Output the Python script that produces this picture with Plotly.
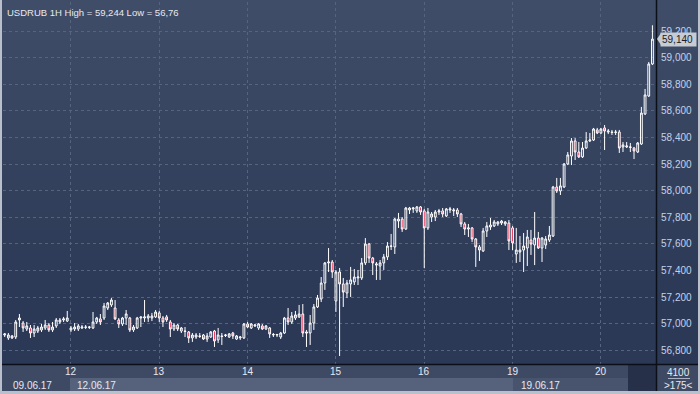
import plotly.graph_objects as go

# ---------------- data (USDRUB, 1H candles) ----------------
open_ = [56.915,56.893,56.908,56.900,57.043,57.005,56.960,56.968,56.930,56.945,56.953,56.968,56.990,56.953,56.983,57.013,57.028,57.020,
 56.953,56.960,56.960,56.968,56.972,56.972,56.968,57.013,57.036,57.043,57.118,57.141,57.118,57.028,56.998,57.043,57.043,56.953,56.968,57.043,57.043,57.043,57.043,57.051,
 57.081,57.043,57.051,57.013,56.960,56.990,56.945,56.945,56.938,56.893,56.900,56.908,56.915,56.885,56.900,56.945,56.878,56.908,56.911,56.900,56.930,56.885,56.893,56.893,
 56.998,56.968,56.983,56.968,56.983,56.960,56.968,56.915,56.915,56.900,56.930,57.043,57.013,57.043,57.051,57.073,56.938,56.930,57.005,57.126,57.186,57.306,57.457,57.464,
 57.171,57.389,57.299,57.231,57.299,57.314,57.344,57.344,57.457,57.599,57.494,57.441,57.434,57.457,57.502,57.581,57.577,57.772,57.787,57.712,57.855,57.863,57.848,57.878,
 57.848,57.720,57.802,57.802,57.840,57.848,57.810,57.855,57.848,57.855,57.825,57.750,57.712,57.720,57.637,57.577,57.547,57.697,57.727,57.735,57.750,57.772,57.750,57.757,
 57.720,57.524,57.539,57.554,57.569,57.629,57.592,57.644,57.569,57.592,57.629,57.659,58.028,57.998,58.028,58.201,58.261,58.374,58.291,58.254,58.321,58.374,58.381,58.457,
 58.434,58.472,58.441,58.441,58.438,58.441,58.329,58.329,58.325,58.321,58.291,58.351,58.577,58.712,58.953]
high = [56.930,56.930,56.915,57.028,57.073,57.020,57.013,56.990,56.990,56.983,56.998,57.028,57.005,57.013,57.043,57.043,57.051,57.096,
 56.983,57.005,56.998,56.990,56.990,56.983,57.088,57.051,57.073,57.156,57.163,57.193,57.178,57.043,57.051,57.103,57.051,56.990,57.051,57.051,57.178,57.073,57.081,57.103,
 57.096,57.058,57.066,57.028,57.005,56.998,56.975,56.975,56.945,56.930,56.930,56.930,56.923,56.930,56.945,56.953,56.968,56.930,56.923,56.930,56.938,56.915,56.908,57.005,
 57.013,57.005,56.998,57.005,56.998,56.990,56.975,56.930,56.923,56.938,57.051,57.118,57.088,57.096,57.141,57.148,56.953,57.066,57.148,57.216,57.351,57.464,57.569,57.479,
 57.404,57.419,57.344,57.329,57.427,57.411,57.404,57.494,57.644,57.607,57.502,57.464,57.479,57.524,57.614,57.675,57.795,57.833,57.802,57.878,57.878,57.878,57.885,57.885,
 57.863,57.870,57.840,57.855,57.863,57.870,57.870,57.878,57.870,57.870,57.833,57.765,57.750,57.727,57.644,57.592,57.720,57.765,57.795,57.780,57.772,57.780,57.772,57.780,
 57.735,57.720,57.659,57.682,57.705,57.705,57.840,57.690,57.652,57.659,57.735,58.036,58.096,58.096,58.208,58.291,58.396,58.396,58.366,58.366,58.441,58.434,58.472,58.472,
 58.472,58.494,58.464,58.457,58.457,58.457,58.366,58.366,58.359,58.329,58.366,58.630,58.765,58.968,59.244]
low = [56.900,56.878,56.885,56.885,56.975,56.938,56.945,56.893,56.900,56.930,56.938,56.953,56.938,56.938,56.968,56.998,57.013,57.013,
 56.938,56.945,56.945,56.960,56.960,56.960,56.960,56.998,56.990,57.028,57.103,57.126,57.028,56.968,56.983,56.990,56.938,56.938,56.960,56.975,57.013,57.013,57.020,57.043,
 57.013,56.975,57.013,56.900,56.945,56.945,56.930,56.900,56.855,56.863,56.885,56.893,56.878,56.863,56.893,56.825,56.855,56.840,56.900,56.893,56.885,56.878,56.878,56.885,
 56.968,56.960,56.975,56.953,56.953,56.953,56.893,56.900,56.900,56.885,56.923,56.990,56.998,57.028,57.043,56.900,56.825,56.840,56.953,57.118,57.163,57.254,57.389,57.344,
 57.088,56.757,57.126,57.193,57.201,57.291,57.291,57.329,57.441,57.457,57.366,57.329,57.329,57.404,57.479,57.554,57.524,57.720,57.690,57.705,57.825,57.833,57.833,57.818,
 57.419,57.705,57.765,57.772,57.818,57.802,57.802,57.833,57.810,57.802,57.727,57.667,57.652,57.614,57.427,57.472,57.539,57.652,57.705,57.727,57.735,57.742,57.735,57.554,
 57.554,57.457,57.464,57.389,57.434,57.517,57.441,57.562,57.464,57.562,57.614,57.652,57.983,57.968,58.021,58.193,58.193,58.231,58.246,58.246,58.314,58.366,58.374,58.426,
 58.426,58.306,58.426,58.419,58.419,58.284,58.291,58.321,58.291,58.238,58.284,58.344,58.569,58.705,58.945]
close = [56.923,56.915,56.893,57.013,57.028,56.968,56.983,56.930,56.960,56.968,56.975,56.990,56.953,56.975,57.028,57.028,57.036,57.043,
 56.968,56.975,56.983,56.975,56.975,56.975,57.013,57.043,57.013,57.133,57.156,57.178,57.036,56.998,57.043,57.073,56.953,56.975,57.043,57.051,57.051,57.058,57.058,57.088,
 57.043,57.013,57.028,56.960,56.990,56.960,56.968,56.942,56.893,56.915,56.915,56.904,56.885,56.908,56.938,56.870,56.915,56.904,56.915,56.923,56.908,56.908,56.900,56.998,
 56.975,56.998,56.990,56.998,56.960,56.983,56.923,56.919,56.919,56.930,57.043,57.013,57.058,57.066,57.073,56.930,56.930,57.005,57.126,57.193,57.306,57.457,57.464,57.389,
 57.389,57.299,57.238,57.306,57.329,57.351,57.351,57.457,57.599,57.494,57.457,57.449,57.457,57.502,57.584,57.584,57.787,57.787,57.712,57.870,57.870,57.870,57.878,57.840,
 57.720,57.840,57.825,57.840,57.848,57.825,57.863,57.863,57.855,57.825,57.750,57.712,57.720,57.637,57.577,57.554,57.697,57.735,57.742,57.765,57.765,57.757,57.765,57.622,
 57.607,57.554,57.554,57.584,57.652,57.599,57.644,57.569,57.644,57.637,57.667,58.028,57.998,58.036,58.201,58.269,58.374,58.291,58.254,58.321,58.374,58.381,58.464,58.434,
 58.464,58.449,58.449,58.438,58.441,58.321,58.344,58.336,58.329,58.299,58.359,58.584,58.720,58.953,59.140]

day_ticks = [18, 42, 66, 90, 114, 138, 162]
day_labels = ["12", "13", "14", "15", "16", "19", "20"]
session_labels = ["09.06.17", "12.06.17", "19.06.17"]
price_ticks = [56.8, 57.0, 57.2, 57.4, 57.6, 57.8, 58.0, 58.2, 58.4, 58.6, 58.8, 59.0, 59.2]
last_price = 59.140
title_text = "USDRUB 1H High = 59,244 Low = 56,76"
bars_count_text = "4100"
visible_text = ">175<"

# ---------------- figure ----------------
W, H = 700, 394
PL, PR, PT, PB = 3, 656, 2, 364   # plot area in pixels
FONT = "Liberation Sans, Arial, sans-serif"
FS = 9.5


def px2paper_x(px):
    return (px - PL) / (PR - PL)


def px2paper_y(py):
    return (PB - py) / (PB - PT)


def fmt(v):
    return ("%.3f" % v).replace(".", ",")


idx = list(range(len(close)))

fig = go.Figure()
fig.add_trace(go.Candlestick(
    x=idx, open=open_, high=high, low=low, close=close,
    increasing=dict(line=dict(color="#ffffff", width=1), fillcolor="rgba(0,0,0,0)"),
    decreasing=dict(line=dict(color="#ffffff", width=1), fillcolor="#e3173f"),
    whiskerwidth=0, hoverinfo="skip", showlegend=False,
))

shapes = []
# vertical gradient background
top_c = (64, 77, 104)
bot_c = (44, 57, 86)
steps = 30
for i in range(steps):
    y0 = i * 10
    y1 = y0 + 10
    t = (i + 0.5) / steps
    c = tuple(round(top_c[k] + (bot_c[k] - top_c[k]) * t) for k in range(3))
    shapes.append(dict(type="rect", xref="paper", yref="paper",
                       x0=px2paper_x(0), x1=px2paper_x(W), y0=px2paper_y(y1), y1=px2paper_y(y0),
                       fillcolor="rgb(%d,%d,%d)" % c, line=dict(width=0), layer="below"))

# bottom band
band = [
    (0, 365, W, 391, "#3e4a63"),
    (70, 378, 513, 391, "#56627b"),
    (513, 378, 628, 391, "#48546d"),
    (628, 365, 656, 391, "#263149"),
]
for x0, y0, x1, y1, col in band:
    shapes.append(dict(type="rect", xref="paper", yref="paper",
                       x0=px2paper_x(x0), x1=px2paper_x(x1), y0=px2paper_y(y1), y1=px2paper_y(y0),
                       fillcolor=col, line=dict(width=0), layer="above"))
# separators
shapes.append(dict(type="line", xref="paper", yref="paper", x0=px2paper_x(0), x1=px2paper_x(W),
                   y0=px2paper_y(364.5), y1=px2paper_y(364.5), line=dict(color="#0b0f18", width=1.5), layer="above"))
shapes.append(dict(type="line", xref="paper", yref="paper", x0=px2paper_x(656.5), x1=px2paper_x(656.5),
                   y0=px2paper_y(391), y1=px2paper_y(0), line=dict(color="#0b0f18", width=1.5), layer="above"))
shapes.append(dict(type="line", xref="paper", yref="paper", x0=px2paper_x(668), x1=px2paper_x(690),
                   y0=px2paper_y(378.5), y1=px2paper_y(378.5), line=dict(color="#aab3c3", width=1), layer="above"))
# outer frame
for x0, y0, x1, y1 in [(0, 0, 2, H), (698, 0, W, H), (0, 391, W, H)]:
    shapes.append(dict(type="rect", xref="paper", yref="paper",
                       x0=px2paper_x(x0), x1=px2paper_x(x1), y0=px2paper_y(y1), y1=px2paper_y(y0),
                       fillcolor="#b9c0cc", line=dict(width=0), layer="above"))

# last price marker arrow
dy = 0.045
shapes.append(dict(type="path", xref="paper", yref="y",
                   path="M %f,%f L %f,%f L %f,%f Z" % (px2paper_x(657), last_price,
                                                       px2paper_x(661), last_price + dy,
                                                       px2paper_x(661), last_price - dy),
                   fillcolor="#c6cbd4", line=dict(width=0), layer="above"))

annotations = []
# price tick labels
for v in price_ticks:
    annotations.append(dict(xref="paper", yref="y", x=px2paper_x(659), y=v, xanchor="left", yanchor="middle",
                            text=fmt(v), showarrow=False, font=dict(size=FS + 0.5, color="#c3d2ea")))
# last price box (drawn over the tick labels)
annotations.append(dict(xref="paper", yref="y", x=px2paper_x(660), y=last_price, xanchor="left", yanchor="middle",
                        text=fmt(last_price) + " ", showarrow=False, bgcolor="#c6cbd4", borderpad=1,
                        font=dict(size=FS + 0.5, color="#1a1d24")))
annotations += [
    dict(xref="paper", yref="paper", x=px2paper_x(5), y=px2paper_y(12), xanchor="left", yanchor="middle",
         text=title_text, showarrow=False, font=dict(size=FS, color="#e6e9ef")),
    dict(xref="paper", yref="paper", x=px2paper_x(678), y=px2paper_y(372), xanchor="center", yanchor="middle",
         text=bars_count_text, showarrow=False, font=dict(size=FS + 0.5, color="#e6e9ef")),
    dict(xref="paper", yref="paper", x=px2paper_x(678), y=px2paper_y(385.5), xanchor="center", yanchor="middle",
         text=visible_text, showarrow=False, font=dict(size=FS + 0.5, color="#e6e9ef")),
]
sess_px = [11, 75, 519]
for sx, lab in zip(sess_px, session_labels):
    annotations.append(dict(xref="paper", yref="paper", x=px2paper_x(sx), y=px2paper_y(385), xanchor="left",
                            yanchor="middle", text=lab, showarrow=False, font=dict(size=FS + 0.5, color="#e6e9ef")))
for t, lab in zip(day_ticks, day_labels):
    annotations.append(dict(xref="x", yref="paper", x=t, y=px2paper_y(371.5), xanchor="center",
                            yanchor="middle", text=lab, showarrow=False, font=dict(size=FS + 0.5, color="#e6e9ef")))

fig.update_layout(
    width=W, height=H,
    margin=dict(l=PL, r=W - PR, t=PT, b=H - PB),
    paper_bgcolor="rgb(44,57,86)", plot_bgcolor="rgba(0,0,0,0)",
    font=dict(family=FONT, size=FS, color="#e6e9ef"),
    xaxis=dict(range=[-0.46, 176.97], rangeslider=dict(visible=False), tickvals=day_ticks,
               showticklabels=False, showgrid=True, gridcolor="#56647f", griddash="3px,3px", gridwidth=1,
               zeroline=False, showline=False, fixedrange=True),
    yaxis=dict(range=[56.697, 59.419], side="right", tickvals=price_ticks, showticklabels=False,
               showgrid=True, gridcolor="#56647f", griddash="3px,3px", gridwidth=1,
               zeroline=False, showline=False, fixedrange=True),
    shapes=shapes, annotations=annotations, showlegend=False,
)

fig.write_html("out.html", config={"displayModeBar": False},
               post_script="document.body.style.margin='0';document.body.style.overflow='hidden';")
